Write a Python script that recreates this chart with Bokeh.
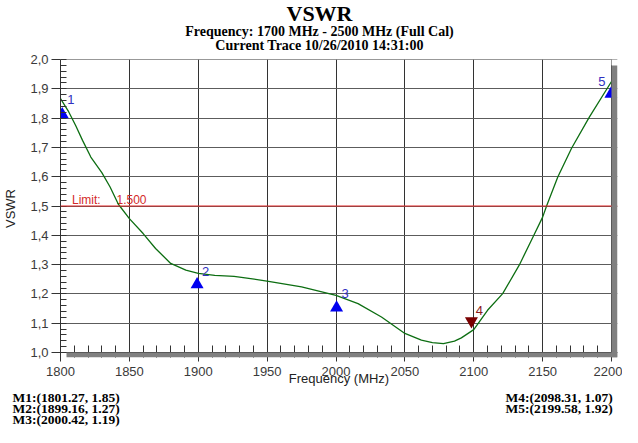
import numpy as np
from bokeh.plotting import figure
from bokeh.layouts import column
from bokeh.models import (FixedTicker, CustomJSTickFormatter, Span, BoxAnnotation,
                          Range1d, ColumnDataSource)
from bokeh.embed import file_html
from bokeh.resources import INLINE
from bokeh.core.properties import value

# ---------------- data ----------------
title_text = "VSWR"
subtitle1 = "Frequency: 1700 MHz - 2500 MHz (Full Cal)"
subtitle2 = "Current Trace 10/26/2010 14:31:00"
x_title = "Frequency (MHz)"
y_title = "VSWR"

freq = [1800, 1806, 1811, 1816, 1822, 1830, 1836, 1842, 1850, 1860, 1869, 1880,
        1891, 1900, 1912, 1926, 1938, 1951, 1975, 2000, 2016, 2033, 2050, 2062,
        2070, 2078, 2086, 2091, 2100, 2110, 2121, 2133, 2143, 2150, 2153, 2161,
        2171, 2184, 2200]
vswr = [1.867, 1.821, 1.775, 1.724, 1.667, 1.614, 1.565, 1.506, 1.457, 1.406, 1.355, 1.304,
        1.281, 1.270, 1.263, 1.260, 1.252, 1.243, 1.224, 1.195, 1.167, 1.121, 1.065, 1.042,
        1.034, 1.030, 1.039, 1.050, 1.078, 1.144, 1.201, 1.298, 1.394, 1.462, 1.502, 1.599,
        1.697, 1.804, 1.925]

marker_ids = ["1", "2", "3", "4", "5"]
marker_freq = [1801.27, 1899.16, 2000.42, 2098.31, 2199.58]
marker_vswr = [1.85, 1.27, 1.19, 1.07, 1.92]
marker_dir = ["up", "up", "up", "down", "up"]

limit_value = 1.5
limit_name = "Limit:"

x_ticks = [1800, 1850, 1900, 1950, 2000, 2050, 2100, 2150, 2200]
y_ticks = [1.0, 1.1, 1.2, 1.3, 1.4, 1.5, 1.6, 1.7, 1.8, 1.9, 2.0]

# ---------------- layout / style ----------------
W = 622
TOP_H = 51            # title strip
MAIN_H = 339          # chart
BOT_H = 427 - TOP_H - MAIN_H
FL, FT = 59, 8        # frame left / top inside main figure
PLOT_W, PLOT_H = 552, 293   # pixel size of the 1800-2200 x 1.0-2.0 area
SH = 6                # 3-D shadow depth (px)
inner_w = PLOT_W + SH
inner_h = PLOT_H + 5
FR = W - FL - inner_w
FB = MAIN_H - FT - inner_h

px_x = (x_ticks[-1] - x_ticks[0]) / PLOT_W
px_y = (y_ticks[-1] - y_ticks[0]) / PLOT_H
x_end = x_ticks[-1] + SH * px_x
y_start = y_ticks[0] - 5 * px_y

label_dx = [5, 5, 5, 4.3, -12.7]      # pixel offsets of marker numbers
label_dy = [-4, -2, -3, -21, -1.6]

DARK = "#333333"
MID = "#5c5c5c"
SANS = "Liberation Sans"
SERIF = "Liberation Serif"


def no_align(f):
    if "frame_align" in f.properties():
        f.frame_align = False
        return True
    return False


p = figure(width=W, height=MAIN_H, x_range=Range1d(x_ticks[0], x_end),
           y_range=Range1d(y_start, y_ticks[-1]), title=None,
           output_backend="svg", toolbar_location=None,
           min_border_left=FL, min_border_right=FR,
           min_border_top=FT, min_border_bottom=FB,
           background_fill_color="white", border_fill_color="white")
p.title = None
p.outline_line_color = None
no_align(p)

# axes
x_minor = list(np.arange(x_ticks[0], x_ticks[-1] + 1, 10))
y_minor = [round(v, 2) for v in np.arange(y_ticks[0], y_ticks[-1] + 0.001, 0.02)]
p.xaxis.ticker = FixedTicker(ticks=x_ticks, minor_ticks=x_minor)
p.yaxis.ticker = FixedTicker(ticks=y_ticks, minor_ticks=y_minor)
p.yaxis.formatter = CustomJSTickFormatter(code="return tick.toFixed(1).replace('.', ',');")

for ax in (p.xaxis[0], p.yaxis[0]):
    ax.axis_line_color = DARK
    ax.major_tick_line_color = DARK
    ax.minor_tick_line_color = DARK
    ax.minor_tick_out = 0
    ax.major_label_text_font = SANS
    ax.major_label_text_font_size = "13px"
    ax.major_label_text_color = "#3a3a3a"
    ax.axis_label_text_font = SANS
    ax.axis_label_text_font_size = "13px"
    ax.axis_label_text_font_style = "normal"
    ax.axis_label_text_color = "#222222"

p.xaxis.axis_line_color = None
p.xaxis.major_tick_in = 5
p.xaxis.major_tick_out = 4
p.xaxis.minor_tick_in = 12
p.xaxis.major_label_standoff = 5
p.xaxis.axis_label = x_title
p.xaxis.axis_label_standoff = -8

p.yaxis.major_tick_in = 0
p.yaxis.major_tick_out = 9
p.yaxis.minor_tick_in = 6
p.yaxis.major_label_standoff = 3
p.yaxis.axis_label = y_title
p.yaxis.axis_label_standoff = 9

p.xgrid.grid_line_color = DARK
p.ygrid.grid_line_color = MID

# frame edges of the 1.0-2.0 area
p.add_layout(Span(location=y_ticks[0], dimension="width", line_color=DARK, line_width=1))
p.add_layout(Span(location=y_ticks[-1], dimension="width", line_color=DARK, line_width=1))

# limit line + label
p.add_layout(Span(location=limit_value, dimension="width", line_color="#e02424", line_width=1))
p.text(x=[x_ticks[0], x_ticks[0]], y=[limit_value, limit_value],
       text=[limit_name, f"{limit_value:.3f}"], x_offset=[11.5, 56], y_offset=[-6.5, -6.5],
       text_font=value(SANS), text_font_size="12px", text_color="#d42a2a",
       text_align="left", text_baseline="middle")

# trace
p.line(freq, vswr, line_color="#0d6e12", line_width=1.3)

# markers: triangles with apex just off the marker value
up_x = [f for f, d in zip(marker_freq, marker_dir) if d == "up"]
up_y = [v - 11 * px_y for v, d in zip(marker_vswr, marker_dir) if d == "up"]
dn_x = [f for f, d in zip(marker_freq, marker_dir) if d == "down"]
dn_y = [v + 11 * px_y for v, d in zip(marker_vswr, marker_dir) if d == "down"]
p.scatter(up_x, up_y, marker="triangle", size=13, fill_color="#0000f0", line_color=None)
p.scatter(dn_x, dn_y, marker="inverted_triangle", size=13, fill_color="#7a0000", line_color=None)

lab_colors = ["#3030c0" if d == "up" else "#8b1a1a" for d in marker_dir]
src = ColumnDataSource(dict(x=marker_freq, y=marker_vswr, t=marker_ids,
                            dx=label_dx, dy=label_dy, c=lab_colors))
p.text(x="x", y="y", text="t", x_offset="dx", y_offset="dy", text_color="c", source=src,
       text_font=value(SANS), text_font_size="13px",
       text_align="left", text_baseline="middle")

# 3-D shadow on the right and bottom, white corner above it
p.add_layout(BoxAnnotation(left=x_ticks[-1], right=x_end, top=y_ticks[-1],
                           bottom=y_ticks[-1] - SH * px_y,
                           fill_color="white", fill_alpha=1.0, line_color=None))
p.add_layout(BoxAnnotation(left=x_ticks[-1], right=x_end, top=y_ticks[-1] - SH * px_y,
                           bottom=y_start, fill_color="#808080", fill_alpha=1.0, line_color=None))
p.add_layout(BoxAnnotation(left=x_ticks[0] + SH * px_x, right=x_end, top=y_ticks[0],
                           bottom=y_start, fill_color="#808080", fill_alpha=1.0, line_color=None))


# ---------------- title strip and marker readout strip ----------------
def strip(height):
    f = figure(width=W, height=height, y_range=Range1d(height, 0),
               x_axis_type=None, y_axis_type=None, output_backend="svg", title=None,
               toolbar_location=None, min_border=0,
               background_fill_color="white", border_fill_color="white")
    f.title = None
    f.outline_line_color = None
    if no_align(f):
        f.x_range = Range1d(0, W)          # frame spans the whole strip
    else:
        f.x_range = Range1d(FL, FL + inner_w)   # frame aligned with the chart frame
    return f


top = strip(TOP_H)
top.text(x=[319, 319, 319], y=[13, 30.5, 44.5], text=[title_text, subtitle1, subtitle2],
         text_font_size=["22px", "14px", "14px"], text_font=value(SERIF),
         text_font_style="bold", text_align="center", text_baseline="middle",
         text_color="black")

bot = strip(BOT_H)
left_x = max(12, bot.x_range.start + 1)
m_texts = [f"M{i}:({f:.2f},  {v:.2f})" for i, f, v in zip(marker_ids, marker_freq, marker_vswr)]
rows = [6.5, 18, 29.3]
col_x = [left_x] * 3 + [505] * 2
col_y = rows[:3] + rows[:2]
bot.text(x=col_x, y=col_y, text=m_texts, text_font=value(SERIF), text_font_style="bold",
         text_font_size="13.5px", text_align="left", text_baseline="middle",
         text_color="black")

layout = column(top, p, bot, spacing=0)
open("out.html", "w").write(file_html(layout, INLINE))
